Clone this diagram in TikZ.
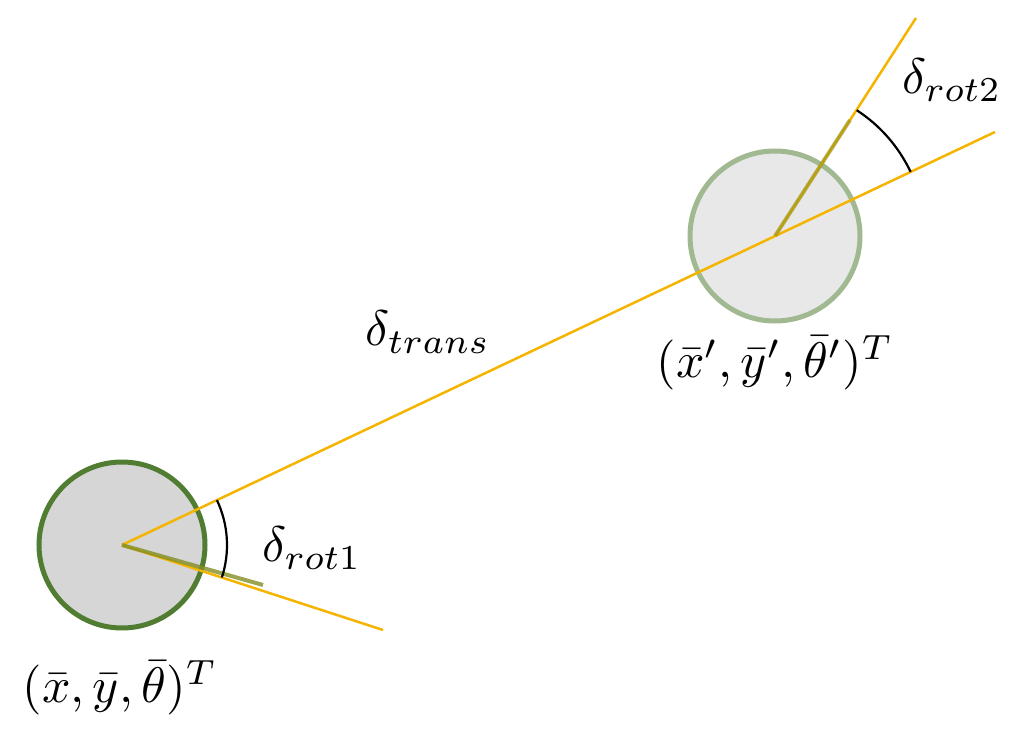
\documentclass[tikz,border=0pt]{standalone}
\definecolor{orng}{RGB}{245,180,0}
\definecolor{dgreen}{RGB}{80,125,50}
\definecolor{lgreen}{RGB}{160,185,145}
\tikzset{orl/.style={orng,line width=2.5pt},lbl/.style={scale=5}}
\begin{document}
\begin{tikzpicture}[x=1pt,y=-1pt]
\useasboundingbox (0,0) rectangle (1012,743);
\coordinate (c1) at (122,545);
\coordinate (c2) at (775,236);
\coordinate (e1) at (383,630);
\coordinate (e2) at (995,132);
\coordinate (h2) at (916,18);
\node[circle,draw=dgreen,line width=5pt,fill=black!16,minimum size=166pt,inner sep=0pt] (r1) at (c1) {};
\node[circle,draw=lgreen,line width=5pt,fill=black!9,minimum size=170pt,inner sep=0pt] (r2) at (c2) {};
\draw[orl] (c1) -- (e2);
\draw[orl] (c1) -- (e1);
\draw[orl] (c2) -- (h2);
\draw[dgreen!70!orng,line width=4pt,opacity=0.8] (c1) -- (263,585);
\draw[dgreen!60!orng,line width=4pt,opacity=0.6] (c2) -- (850,120);
\draw[line width=2.2pt] (c1) ++(-25.3:105) arc[start angle=-25.3,end angle=18,radius=105];
\draw[line width=2.2pt] (c2) ++(-57:150) arc[start angle=-57,end angle=-25.3,radius=150];
\node[lbl] (dt) at (428,332) {$\delta_{trans}$};
\node[lbl] (d1) at (312,548) {$\delta_{rot1}$};
\node[lbl] (d2) at (952,80) {$\delta_{rot2}$};
\node[lbl] (p1) at (120,688) {$(\bar x,\bar y,\bar\theta)^T$};
\node[lbl] (p2) at (775,363) {$(\bar x',\bar y',\bar\theta')^T$};
\end{tikzpicture}
\end{document}
